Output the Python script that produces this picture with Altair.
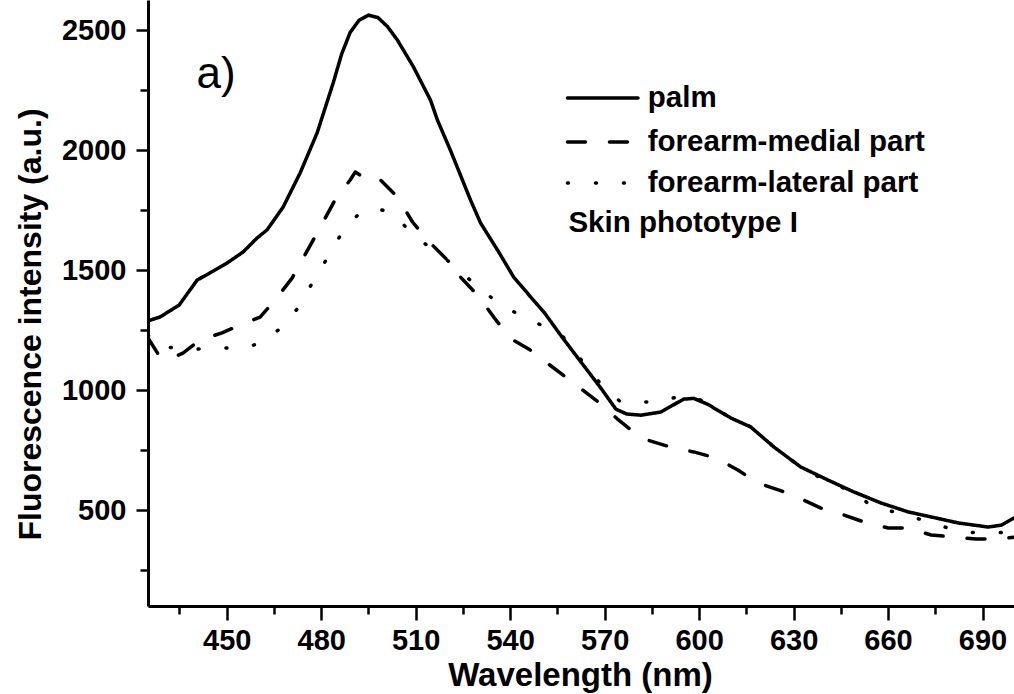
import altair as alt
import pandas as pd

FONT = "Liberation Sans"

series_names = ["palm", "forearm-medial part", "forearm-lateral part"]

palm_x = [425, 428.8, 434.9, 440.6, 444.7, 450.1, 455.2, 459.6, 462.8, 467.9, 473.3, 478.7,
          483.8, 486.5, 489.2, 492, 495, 498, 501, 504.2, 509.3, 514.7, 516.9, 521.0, 527.4,
          530.6, 536.0, 541.1, 546.5, 551, 556, 562, 568.8, 573.6, 577, 581.5, 587.8, 595.1,
          598.3, 602.8, 610.1, 616.4, 623.8, 632.3, 640.9, 649.2, 657.8, 666.4, 673.7, 682.3,
          691.8, 696.0, 700]
palm_y = [1288, 1304, 1354, 1458, 1488, 1529, 1575, 1633, 1667, 1762, 1904, 2071,
          2279, 2400, 2490, 2540, 2562, 2552, 2515, 2458, 2346, 2208, 2125, 2000, 1792,
          1696, 1583, 1471, 1388, 1320, 1229, 1125, 1008, 920, 900, 895, 908, 962,
          965, 940, 883, 846, 762, 679, 625, 575, 529, 492, 471, 446,
          429, 437, 467]

med_x = [425, 428.8, 432, 436.1, 441.5, 448.5, 453.6, 460.6, 465.4, 470.8, 474.3, 478.7,
         484.4, 489.2, 490.8, 493, 495.6, 498.8, 504.2, 509.0, 513.7, 521.0, 524.2, 530,
         535, 540, 546, 552, 556, 562, 568, 574, 581.5, 591.0, 598.3, 605.3, 612.3, 618.7,
         625.4, 631.7, 638.7, 646.0, 652.4, 660.0, 666.4, 673.7, 681.0, 688.0, 695.0, 700]
med_y = [1217, 1137, 1130, 1154, 1208, 1238, 1267, 1304, 1375, 1467, 1550, 1654,
         1792, 1875, 1908, 1890, 1867, 1875, 1804, 1700, 1625, 1529, 1471, 1390,
         1300, 1215, 1170, 1110, 1070, 1010, 950, 880, 800, 762, 742, 717, 667, 612,
         583, 550, 508, 479, 450, 425, 425, 396, 387, 379, 379, 387]

lat_x = [425, 427.2, 431.0, 438.3, 446.6, 453.6, 460.0, 466.4, 472.7, 477.5, 482.9, 487.6,
         492.4, 497.2, 502.6, 509.3, 515.6, 522.0, 529.0, 537.0, 546.5, 556.0, 562, 568.8,
         575.1, 581.5, 587.2, 595.1, 600.5, 610.1, 616.4, 623.8, 632.3, 640.9, 649.2, 655.5,
         664.2, 672.8, 683.2, 691.8, 700]
lat_y = [1230, 1187, 1179, 1167, 1179, 1171, 1192, 1250, 1342, 1454, 1571, 1679,
         1738, 1758, 1737, 1646, 1583, 1521, 1438, 1354, 1290, 1235, 1135, 1025,
         950, 950, 950, 979, 958, 883, 846, 762, 679, 617, 575, 508,
         487, 450, 408, 404, 408]

x_ticks = [435, 450, 465, 480, 495, 510, 525, 540, 555, 570, 585, 600, 615, 630, 645, 660, 675, 690]
y_ticks = [250, 500, 750, 1000, 1250, 1500, 1750, 2000, 2250, 2500]

legend_y = [2217, 2033, 1862]
legend_x1 = [558.2, 558.2, 558.2]
legend_x2 = [580.6, 580.6, 580.6]
legend_text_x = [583.7, 583.7, 583.7]
note_text = ["Skin phototype I"]
note_x = [558.5]
note_y = [1696]
panel_text = ["a)"]
panel_x = [446.6]
panel_y = [2260]

dash_range = [[1, 0], [18, 24], [1, 27]]

rows = []
for name, xs, ys in zip(series_names, [palm_x, med_x, lat_x], [palm_y, med_y, lat_y]):
    for i, (xv, yv) in enumerate(zip(xs, ys)):
        rows.append({"series": name, "wl": xv, "val": yv, "idx": i})
df = pd.DataFrame(rows)

leg_df = pd.DataFrame({"series": series_names, "x1": legend_x1, "x2": legend_x2,
                       "y": legend_y, "tx": legend_text_x})
note_df = pd.DataFrame({"t": note_text, "x": note_x, "y": note_y})
panel_df = pd.DataFrame({"t": panel_text, "x": panel_x, "y": panel_y})

x_scale = alt.Scale(domain=[425, 700], nice=False, zero=False)
y_scale = alt.Scale(domain=[100, 2625], nice=False, zero=False)
dash_scale = alt.Scale(domain=series_names, range=dash_range)

common_axis = dict(
    labelFont=FONT, labelFontWeight="bold", labelFontSize=29, labelColor="black",
    titleFont=FONT, titleFontWeight="bold", titleColor="black",
    domainColor="black", domainWidth=3, tickColor="black", tickWidth=2.5,
    grid=False, labelFlush=False, labelOverlap=False, format="d",
)

x_axis = alt.Axis(
    values=x_ticks, title="Wavelength (nm)",
    labelExpr="datum.value % 30 == 0 ? datum.label : ''",
    tickSize={"condition": {"test": "datum.value % 30 == 0", "value": 14}, "value": 8},
    labelPadding=6, titleFontSize=33, titleX=432, titleY=79,
    titleBaseline="alphabetic", titleAlign="center",
    **common_axis,
)
y_axis = alt.Axis(
    values=y_ticks, title="Fluorescence intensity (a.u.)",
    labelExpr="datum.value % 500 == 0 ? datum.label : ''",
    tickSize={"condition": {"test": "datum.value % 500 == 0", "value": 12}, "value": 8},
    labelPadding=10, titleFontSize=32, titleAngle=-90, titleX=-101, titleY=324,
    titleBaseline="bottom", titleAlign="center",
    **common_axis,
)

lines = alt.Chart(df).mark_line(strokeWidth=3.5, strokeCap="round", strokeJoin="round",
                                color="black", clip=True).encode(
    x=alt.X("wl:Q", scale=x_scale, axis=x_axis),
    y=alt.Y("val:Q", scale=y_scale, axis=y_axis),
    strokeDash=alt.StrokeDash("series:N", scale=dash_scale, legend=None),
    detail="series:N",
    order="idx:Q",
)

leg_lines = alt.Chart(leg_df).mark_rule(strokeWidth=3.5, strokeCap="round", color="black").encode(
    x="x1:Q", x2="x2:Q", y="y:Q",
    strokeDash=alt.StrokeDash("series:N", scale=dash_scale, legend=None),
)
leg_text = alt.Chart(leg_df).mark_text(align="left", baseline="middle", font=FONT,
                                       fontWeight="bold", fontSize=29.5, color="black").encode(
    x="tx:Q", y="y:Q", text="series:N",
)
note = alt.Chart(note_df).mark_text(align="left", baseline="middle", font=FONT,
                                    fontWeight="bold", fontSize=29.5, color="black").encode(
    x="x:Q", y="y:Q", text="t:N",
)
panel = alt.Chart(panel_df).mark_text(align="center", baseline="alphabetic", font=FONT,
                                      fontSize=44, color="black").encode(
    x="x:Q", y="y:Q", text="t:N",
)

chart = alt.layer(lines, leg_lines, leg_text, note, panel).properties(
    width=866, height=606,
    autosize=alt.AutoSizeParams(type="none"),
    padding={"left": 148, "top": 0, "right": 0, "bottom": 88},
    background="white",
).configure_view(stroke=None)

chart.save("out.html", embed_options={"renderer": "svg", "actions": False})
